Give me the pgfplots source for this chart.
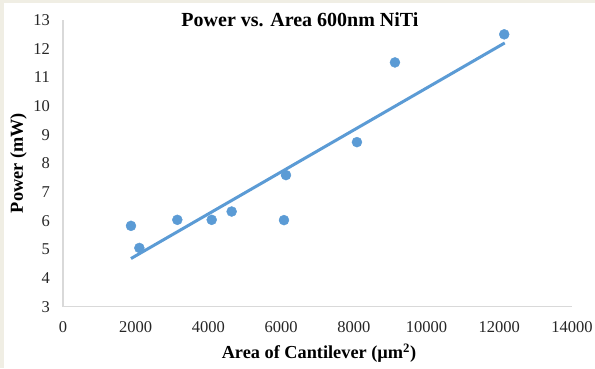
\documentclass[border=0pt]{standalone}
\usepackage{fontspec}
\setmainfont{Liberation Serif}
\usepackage{pgfplots}
\pgfplotsset{compat=1.18}
\definecolor{ptblue}{RGB}{91,155,213}
\definecolor{framec}{RGB}{240,238,228}
\definecolor{axgray}{RGB}{217,217,217}
\begin{document}
\begin{tikzpicture}[x=1pt,y=1pt]
\fill[framec] (-63,-61.3) rectangle (532,306.7);
\fill[white] (-59,-61.3) rectangle (532,303.7);
\begin{axis}[
  at={(0,0)}, anchor=south west,
  scale only axis, width=509pt, height=286.7pt,
  xmin=0, xmax=14000, ymin=3, ymax=13,
  xtick={0,2000,...,14000}, ytick={3,4,...,13},
  separate axis lines,
  axis x line=bottom, axis y line=left,
  axis line style={-, axgray, line width=1.2pt},
  major tick length=0pt,
  scaled x ticks=false,
  /pgf/number format/assume math mode=true,
  /pgf/number format/1000 sep={},
  tick label style={font=\fontsize{16.5}{16.5}\selectfont, text=black!85, inner sep=0pt},
  xticklabel style={anchor=center, yshift=-20pt},
  yticklabel style={anchor=east, xshift=-13pt},
  clip=false,
]
\addplot[ptblue, line width=3pt] coordinates {(1870,4.68) (12150,12.2)};
\addplot[only marks, mark=*, mark size=5pt, mark options={draw=ptblue, fill=ptblue}] coordinates {
  (1870,5.82) (2100,5.05) (3144,6.03) (4090,6.03) (4639,6.32)
  (6078,6.02) (6133,7.59) (8085,8.74) (9130,11.52) (12136,12.50)
};
\end{axis}
\node[anchor=base, font=\fontsize{20}{20}\selectfont\bfseries] at (237,280.7) {Power vs. Area 600nm NiTi};
\node[anchor=base, font=\fontsize{18.3}{18.3}\selectfont\bfseries] at (256,-51.6) {Area of Cantilever (µm\textsuperscript{2})};
\node[anchor=base, rotate=90, font=\fontsize{18.3}{18.3}\selectfont\bfseries] at (-40,143.7) {Power (mW)};
\pgfresetboundingbox
\path (-63,-61.3) rectangle (532,306.7);
\end{tikzpicture}
\end{document}
